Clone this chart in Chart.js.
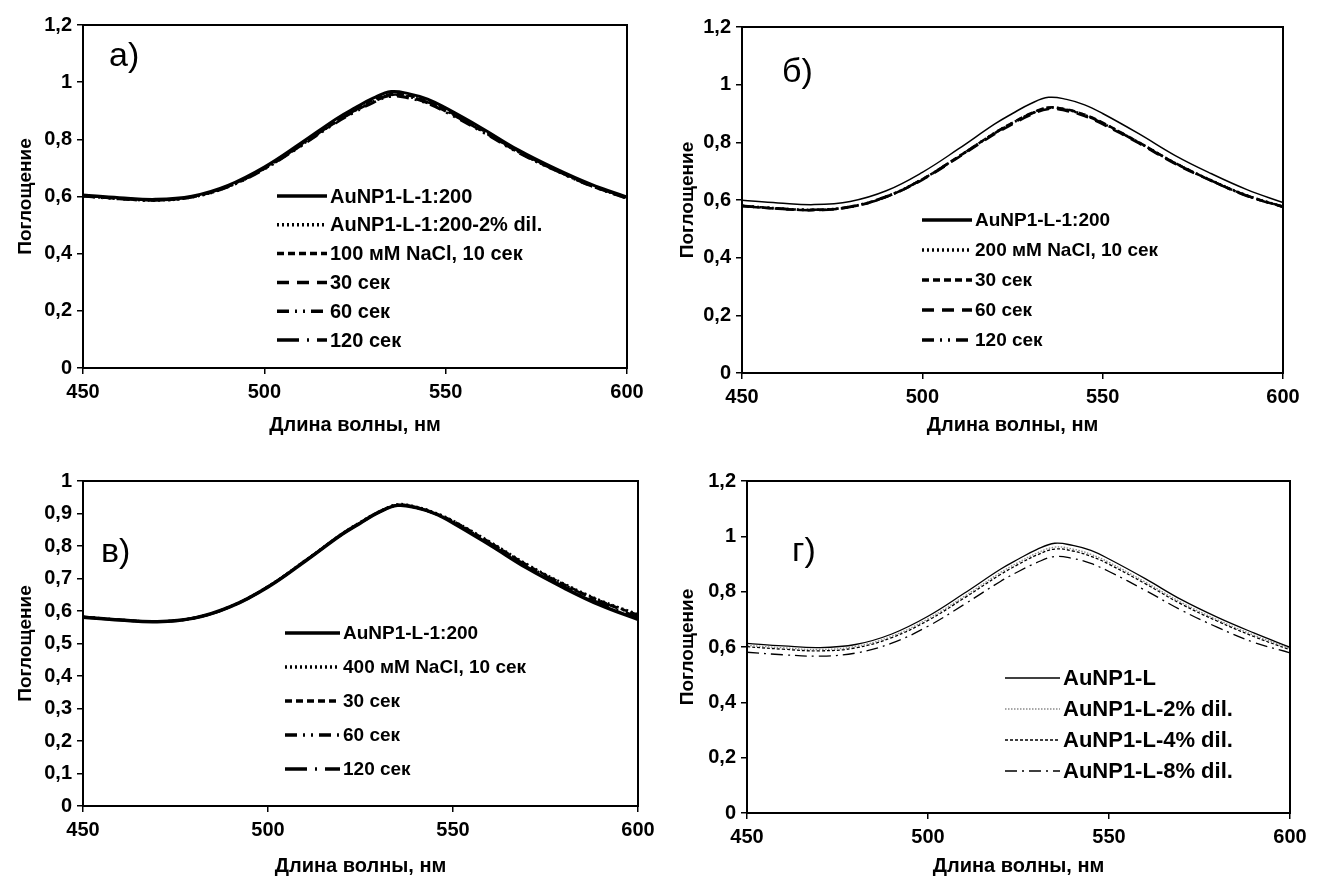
<!DOCTYPE html>
<html>
<head>
<meta charset="utf-8">
<script src="https://cdn.jsdelivr.net/npm/chart.js@4.4.1/dist/chart.umd.min.js"></script>
<style>
  html, body { margin: 0; padding: 0; background: #fff; }
  body { width: 1324px; height: 882px; position: relative; overflow: hidden; }
  .panel { position: absolute; width: 662px; height: 441px; }
</style>
</head>
<body>
<div class="panel" style="left:0;top:0"><canvas id="chartA"></canvas></div>
<div class="panel" style="left:662px;top:0"><canvas id="chartB"></canvas></div>
<div class="panel" style="left:0;top:441px"><canvas id="chartC"></canvas></div>
<div class="panel" style="left:662px;top:441px"><canvas id="chartD"></canvas></div>
<script>
// wavelength grid, nm
const wavelengths = [450, 460, 470, 480, 490, 500, 510, 520, 525, 530, 535, 540, 545, 550, 560, 570, 580, 590, 600];

// panel а) 100 mM NaCl
const a_base   = [0.605,0.596,0.590,0.601,0.639,0.703,0.786,0.873,0.910,0.944,0.967,0.959,0.941,0.910,0.839,0.763,0.699,0.643,0.598];
const a_dil2   = [0.601,0.592,0.586,0.597,0.634,0.697,0.778,0.863,0.900,0.933,0.955,0.948,0.929,0.900,0.830,0.756,0.693,0.638,0.593];
const a_s10    = [0.603,0.594,0.588,0.599,0.636,0.699,0.781,0.866,0.903,0.937,0.959,0.952,0.933,0.903,0.833,0.759,0.696,0.640,0.595];
const a_s30    = [0.602,0.592,0.587,0.598,0.635,0.697,0.777,0.862,0.898,0.931,0.953,0.946,0.927,0.898,0.829,0.755,0.693,0.638,0.594];
const a_s60    = [0.601,0.591,0.586,0.597,0.633,0.695,0.775,0.859,0.895,0.928,0.950,0.943,0.925,0.895,0.826,0.753,0.692,0.637,0.593];
const a_s120   = [0.603,0.594,0.588,0.599,0.636,0.698,0.779,0.864,0.901,0.934,0.956,0.949,0.930,0.901,0.831,0.757,0.695,0.640,0.595];

// panel б) 200 mM NaCl
const b_base   = [0.599,0.590,0.584,0.595,0.632,0.696,0.777,0.863,0.900,0.934,0.956,0.949,0.930,0.900,0.830,0.755,0.692,0.636,0.591];
const b_s10    = [0.580,0.571,0.566,0.577,0.612,0.672,0.750,0.832,0.867,0.899,0.920,0.913,0.895,0.867,0.800,0.729,0.669,0.616,0.577];
const b_s30    = [0.579,0.570,0.565,0.576,0.611,0.672,0.750,0.832,0.868,0.900,0.921,0.914,0.896,0.868,0.800,0.729,0.668,0.615,0.576];
const b_s60    = [0.579,0.570,0.565,0.576,0.611,0.670,0.748,0.828,0.863,0.895,0.916,0.909,0.891,0.863,0.797,0.726,0.667,0.614,0.576];
const b_s120   = [0.580,0.571,0.566,0.577,0.612,0.672,0.750,0.831,0.866,0.898,0.919,0.912,0.894,0.866,0.799,0.728,0.668,0.615,0.577];

// panel в) 400 mM NaCl
const c_base   = [0.581,0.572,0.567,0.578,0.614,0.674,0.753,0.836,0.871,0.904,0.925,0.918,0.900,0.871,0.803,0.732,0.671,0.617,0.574];
const c_s10    = [0.582,0.573,0.568,0.579,0.615,0.676,0.755,0.838,0.874,0.906,0.928,0.921,0.903,0.878,0.813,0.744,0.684,0.632,0.590];
const c_s30    = [0.581,0.572,0.567,0.578,0.614,0.675,0.754,0.836,0.872,0.904,0.926,0.919,0.901,0.877,0.811,0.742,0.682,0.630,0.588];
const c_s60    = [0.582,0.573,0.568,0.579,0.614,0.675,0.754,0.836,0.871,0.904,0.925,0.918,0.900,0.875,0.809,0.740,0.680,0.628,0.587];
const c_s120   = [0.581,0.572,0.567,0.578,0.614,0.674,0.753,0.836,0.871,0.904,0.925,0.918,0.900,0.873,0.806,0.736,0.676,0.623,0.582];

// panel г) dilutions
const d_base   = [0.613,0.604,0.598,0.609,0.647,0.711,0.794,0.881,0.918,0.952,0.975,0.967,0.949,0.918,0.847,0.771,0.707,0.651,0.599];
const d_dil2   = [0.606,0.597,0.591,0.602,0.639,0.702,0.783,0.869,0.906,0.939,0.961,0.954,0.935,0.906,0.835,0.761,0.698,0.643,0.594];
const d_dil4   = [0.601,0.592,0.586,0.597,0.634,0.696,0.777,0.862,0.899,0.932,0.954,0.947,0.928,0.899,0.829,0.755,0.693,0.638,0.590];
const d_dil8   = [0.581,0.572,0.567,0.578,0.614,0.675,0.754,0.837,0.873,0.905,0.927,0.920,0.902,0.873,0.805,0.733,0.671,0.617,0.579];

const xTicks = [450, 500, 550, 600];

// dash patterns
const SOLID = [];
const DOT = [2, 3];
const DASH = [7, 4];
const LONGDASH = [12, 8];
const DASHDOTDOT = [12, 6, 2, 6, 2, 6];
const LONGDASHDOT = [22, 8, 2, 8];

const AXIS_FONT = "'Liberation Sans', Arial, sans-serif";
const TEXT_FONT = "'Liberation Sans', Arial, sans-serif";

function series(label, values, dash, width, color) {
  return {
    label: label,
    data: values.map((v, i) => ({ x: wavelengths[i], y: v })),
    borderColor: color || '#000',
    borderWidth: width,
    borderDash: dash,
    pointRadius: 0,
    fill: false,
    tension: 0.4
  };
}

function fmtTick(v) {
  if (Math.abs(v - Math.round(v)) < 1e-9) return String(Math.round(v));
  return v.toFixed(1).replace('.', ',');
}

// frame, panel letter and in-plot legend
const panelDecor = {
  id: 'panelDecor',
  afterDraw(chart, args, opts) {
    const ctx = chart.ctx;
    const a = chart.chartArea;
    ctx.save();
    ctx.setLineDash([]);
    ctx.strokeStyle = '#000';
    ctx.lineWidth = 2;
    ctx.strokeRect(a.left, a.top, a.right - a.left, a.bottom - a.top);

    ctx.fillStyle = '#000';
    ctx.font = '34px ' + TEXT_FONT;
    ctx.textBaseline = 'middle';
    ctx.textAlign = 'left';
    ctx.fillText(opts.letter, opts.letterX, opts.letterY);

    ctx.font = 'bold ' + opts.fontSize + 'px ' + TEXT_FONT;
    chart.data.datasets.forEach((ds, i) => {
      const y = opts.y + i * opts.gap;
      ctx.strokeStyle = ds.borderColor;
      ctx.lineWidth = opts.legendWidth || ds.borderWidth;
      ctx.setLineDash(ds.borderDash);
      ctx.beginPath();
      ctx.moveTo(opts.x, y);
      ctx.lineTo(opts.x + opts.len, y);
      ctx.stroke();
      ctx.fillStyle = '#000';
      ctx.fillText(ds.label, opts.x + opts.len + 3, y + 1);
    });
    ctx.restore();
  }
};

function makeChart(id, datasets, yMax, yStep, pad, yWidth, xHeight, decor) {
  return new Chart(document.getElementById(id), {
    type: 'line',
    data: { datasets: datasets },
    options: {
      responsive: false,
      animation: false,
      layout: { padding: pad },
      plugins: {
        legend: { display: false },
        tooltip: { enabled: false },
        panelDecor: decor
      },
      scales: {
        x: {
          type: 'linear',
          min: 450,
          max: 600,
          afterBuildTicks: s => { s.ticks = xTicks.map(v => ({ value: v })); },
          afterFit: s => { s.height = xHeight; },
          grid: { drawOnChartArea: false, drawTicks: true, tickLength: 6, color: '#000', lineWidth: 1.5 },
          border: { display: true, color: '#000', width: 2 },
          ticks: { color: '#000', padding: 6, font: { family: AXIS_FONT, size: 20, weight: 'bold' } },
          title: { display: true, text: 'Длина волны, нм', color: '#000', padding: { top: 4, bottom: 4 },
                   font: { family: AXIS_FONT, size: 20, weight: 'bold' } }
        },
        y: {
          min: 0,
          max: yMax,
          afterFit: s => { s.width = yWidth; },
          grid: { drawOnChartArea: false, drawTicks: true, tickLength: 6, color: '#000', lineWidth: 1.5 },
          border: { display: true, color: '#000', width: 2 },
          ticks: { stepSize: yStep, color: '#000', padding: 5, callback: fmtTick,
                   font: { family: AXIS_FONT, size: 20, weight: 'bold' } },
          title: { display: true, text: 'Поглощение', color: '#000', padding: { top: 14, bottom: 10 },
                   font: { family: AXIS_FONT, size: 19, weight: 'bold' } }
        }
      }
    },
    plugins: [panelDecor]
  });
}

['chartA', 'chartB', 'chartC', 'chartD'].forEach(id => {
  const c = document.getElementById(id);
  c.width = 662; c.height = 441;
});

makeChart('chartA', [
  series('AuNP1-L-1:200', a_base, SOLID, 3),
  series('AuNP1-L-1:200-2% dil.', a_dil2, DOT, 2.5),
  series('100 мМ NaCl, 10 сек', a_s10, DASH, 2.5),
  series('30 сек', a_s30, LONGDASH, 2.5),
  series('60 сек', a_s60, DASHDOTDOT, 2.5),
  series('120 сек', a_s120, LONGDASHDOT, 2.5)
], 1.2, 0.2, { top: 25, right: 35, left: 0, bottom: 0 }, 83, 73,
  { letter: 'а)', letterX: 109, letterY: 57, x: 277, len: 50, y: 196, gap: 28.8, fontSize: 20, legendWidth: 3.5 });

makeChart('chartB', [
  series('AuNP1-L-1:200', b_base, SOLID, 1.5),
  series('200 мМ NaCl, 10 сек', b_s10, DOT, 2.5),
  series('30 сек', b_s30, DASH, 2.5),
  series('60 сек', b_s60, LONGDASH, 2.5),
  series('120 сек', b_s120, DASHDOTDOT, 2.5)
], 1.2, 0.2, { top: 27, right: 41, left: 0, bottom: 0 }, 80, 68,
  { letter: 'б)', letterX: 120, letterY: 73, x: 260, len: 50, y: 220, gap: 30, fontSize: 19, legendWidth: 3.5 });

makeChart('chartC', [
  series('AuNP1-L-1:200', c_base, SOLID, 3.5),
  series('400 мМ NaCl, 10 сек', c_s10, DOT, 2.5),
  series('30 сек', c_s30, DASH, 2.5),
  series('60 сек', c_s60, DASHDOTDOT, 2.5),
  series('120 сек', c_s120, LONGDASHDOT, 2.5)
], 1.0, 0.1, { top: 40, right: 24, left: 0, bottom: 0 }, 83, 76,
  { letter: 'в)', letterX: 101, letterY: 112, x: 285, len: 55, y: 192, gap: 34, fontSize: 19, legendWidth: 3.5 });

makeChart('chartD', [
  series('AuNP1-L', d_base, SOLID, 1.3),
  series('AuNP1-L-2% dil.', d_dil2, [1.5, 1.5], 1.3, '#8a8a8a'),
  series('AuNP1-L-4% dil.', d_dil4, [3, 2], 1.3),
  series('AuNP1-L-8% dil.', d_dil8, [12, 5, 2, 5], 1.3)
], 1.2, 0.2, { top: 40, right: 34, left: 0, bottom: 0 }, 85, 69,
  { letter: 'г)', letterX: 130, letterY: 111, x: 343, len: 55, y: 237, gap: 31, fontSize: 22, legendWidth: 1.3 });
</script>
</body>
</html>
